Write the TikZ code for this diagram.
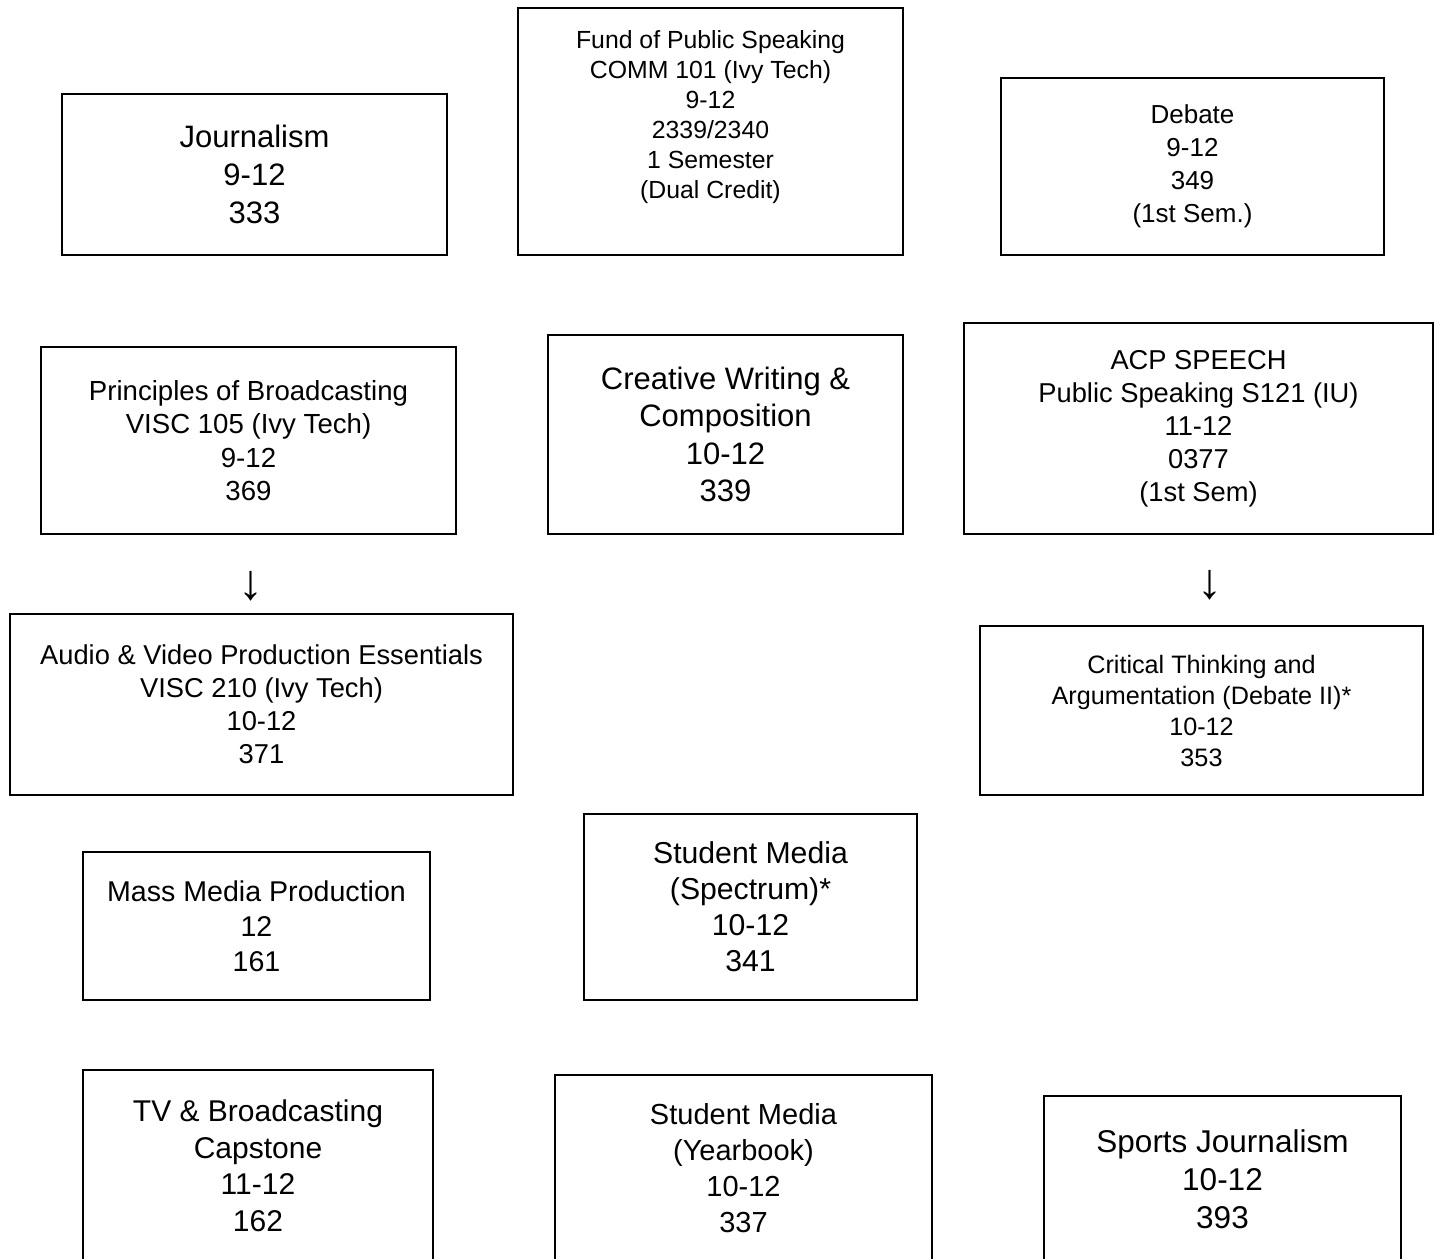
\documentclass[tikz,border=0pt]{standalone}
\usepackage{fontspec}
\setmainfont{Liberation Sans}
\tikzset{
    course/.style={draw,line width=1pt,inner sep=0pt,align=center},
    boxsize/.style 2 args={minimum width=#1*0.5pt,minimum height=#2*0.5pt},
    fs/.style 2 args={font=\fontsize{#1}{#2}\selectfont}
}

\begin{document}
\begin{tikzpicture}[x=0.5pt,y=-0.5pt]
        \useasboundingbox (0,0) rectangle (1437,1259);
        \clip (0,0) rectangle (1437,1259);

        \node[course,boxsize={385}{161},fs={15.5}{19}] (journ) at (254.5,174.5) {Journalism\\9-12\\333};
        \node[course,boxsize={385}{247},fs={12.4}{15}] (fund) at (710.5,131.5) {Fund of Public Speaking\\COMM 101 (Ivy Tech)\\9-12\\2339/2340\\1 Semester\\(Dual Credit)\\[1.5pt]\mbox{}};
        \node[course,boxsize={383}{177},fs={13}{16.5}] (debate) at (1192.5,166.5) {Debate\\9-12\\349\\(1st Sem.)};

        \node[course,boxsize={415}{187},fs={13.8}{16.75}] (prin) at (248.5,440.5) {Principles of Broadcasting\\VISC 105 (Ivy Tech)\\9-12\\369};
        \node[course,boxsize={355}{199},fs={15.5}{18.75}] (creat) at (725.5,434.5) {Creative Writing \&\\Composition\\10-12\\339};
        \node[course,boxsize={469}{211},fs={13.65}{16.5}] (acp) at (1198.5,428.5) {ACP SPEECH\\Public Speaking S121 (IU)\\11-12\\0377\\(1st Sem)};

        \node[fs={25}{30}] (arrL) at (251,586) {↓};
        \node[fs={25}{30}] (arrR) at (1210,585) {↓};

        \node[course,boxsize={503}{181},fs={13.65}{16.5}] (audio) at (261.5,704.5) {Audio \& Video Production Essentials\\VISC 210 (Ivy Tech)\\10-12\\371};
        \node[course,boxsize={443}{169},fs={12.6}{15.5}] (crit) at (1201.5,710.5) {Critical Thinking and\\Argumentation (Debate II)*\\10-12\\353};

        \node[course,boxsize={347}{148},fs={14.3}{17.5}] (mass) at (256.5,926) {Mass Media Production\\12\\161};
        \node[course,boxsize={333}{186},fs={15.1}{18}] (spec) at (750.5,907) {Student Media\\(Spectrum)*\\10-12\\341};

        \node[course,boxsize={350}{192},fs={15}{18.25}] (tv) at (258,1166) {TV \& Broadcasting\\Capstone\\11-12\\162};
        \node[course,boxsize={377}{187},fs={14.5}{18}] (year) at (743.5,1168.5) {Student Media\\(Yearbook)\\10-12\\337};
        \node[course,boxsize={357}{166},fs={15.75}{19}] (sports) at (1222.5,1179) {Sports Journalism\\10-12\\393};
\end{tikzpicture}
\end{document}
